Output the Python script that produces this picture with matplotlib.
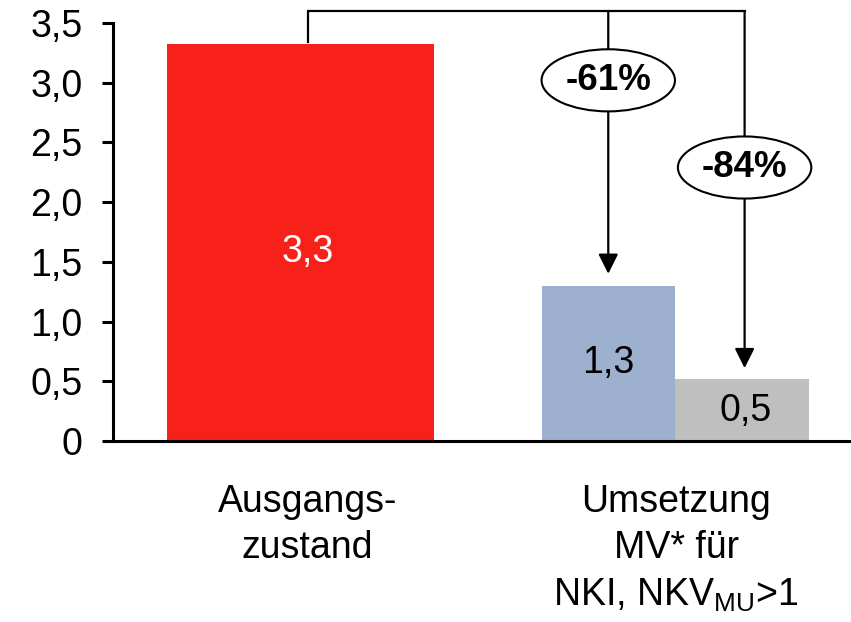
import matplotlib
matplotlib.use("Agg")
import matplotlib.pyplot as plt
from matplotlib.patches import Ellipse

plt.rcParams['font.family'] = ['Liberation Sans', 'DejaVu Sans']
plt.rcParams['mathtext.fontset'] = 'custom'
plt.rcParams['mathtext.rm'] = 'Liberation Sans'
plt.rcParams['mathtext.it'] = 'Liberation Sans'

# ---- data ----
categories = ["Ausgangs-\nzustand", "Umsetzung\nMV* für\nNKI, NKV$_{\\mathrm{MU}}$>1"]
bar_values = [3.32, 1.30, 0.52]
bar_labels = ["3,3", "1,3", "0,5"]
bar_colors = ["#F72119", "#9DB0CE", "#BFBFBF"]
label_colors = ["white", "black", "black"]
reductions = ["-61%", "-84%"]
yticks = [0, 0.5, 1.0, 1.5, 2.0, 2.5, 3.0, 3.5]
ytick_labels = ["0", "0,5", "1,0", "1,5", "2,0", "2,5", "3,0", "3,5"]

# ---- layout ----
W, H = 851, 622
fig = plt.figure(figsize=(W / 100, H / 100), dpi=100)
ax_l, ax_r, ax_b, ax_t = 113, 850, 441, 23
ax = fig.add_axes([ax_l / W, (H - ax_b) / H, (ax_r - ax_l) / W, (ax_b - ax_t) / H])
ax.set_xlim(0, 1)
ax.set_ylim(0, 3.5)

FS = 27
bar_x = [0.2544, 0.672, 0.854]
bar_w = [0.362, 0.181, 0.182]
label_dx = [0.01, 0.0, 0.005]
label_dy = [-0.08, 0.0, -0.01]
bars = ax.bar(bar_x, bar_values, width=bar_w, color=bar_colors, zorder=2)
for b, lab, c, dx, dy in zip(bars, bar_labels, label_colors, label_dx, label_dy):
    ax.text(b.get_x() + b.get_width() / 2 + dx, b.get_height() / 2 + dy, lab,
            ha='center', va='center', fontsize=FS, color=c, zorder=3)

# axes styling
for s in ['top', 'right']:
    ax.spines[s].set_visible(False)
ax.spines['left'].set_linewidth(2.2)
ax.spines['bottom'].set_linewidth(2.2)
ax.set_yticks(yticks)
ax.set_yticklabels(ytick_labels, fontsize=FS)
ax.tick_params(axis='y', length=8, width=2.2, pad=14)
ax.set_xticks([0.264, 0.764])
ax.set_xticklabels(categories, fontsize=FS, linespacing=1.36)
ax.tick_params(axis='x', length=0, pad=31)

# connector lines
top_y = 3.60
x_src = 0.264
x_a1, x_a2 = 0.672, 0.857
lw = 1.6
ax.plot([x_src, x_src, x_a2], [bar_values[0] + 0.02, top_y, top_y], color='black', lw=lw,
        clip_on=False, solid_joinstyle='miter', zorder=4)
for x, tip in [(x_a1, bar_values[1] + 0.10), (x_a2, bar_values[2] + 0.09)]:
    ax.annotate("", xy=(x, tip), xytext=(x, top_y),
                arrowprops=dict(arrowstyle="-|>,head_length=12,head_width=6", mutation_scale=1,
                                color='black', lw=lw, shrinkA=0, shrinkB=0),
                annotation_clip=False, zorder=4)

# ellipses with reductions
for (x, yc), txt in zip([(x_a1, 3.02), (x_a2, 2.29)], reductions):
    e = Ellipse((x, yc), width=0.181, height=0.52, facecolor='white', edgecolor='black',
                lw=1.5, zorder=5, clip_on=False)
    ax.add_patch(e)
    ax.text(x, yc, txt, ha='center', va='center', fontsize=26.5, fontweight='bold', zorder=6)

fig.savefig("out.png", dpi=100)
